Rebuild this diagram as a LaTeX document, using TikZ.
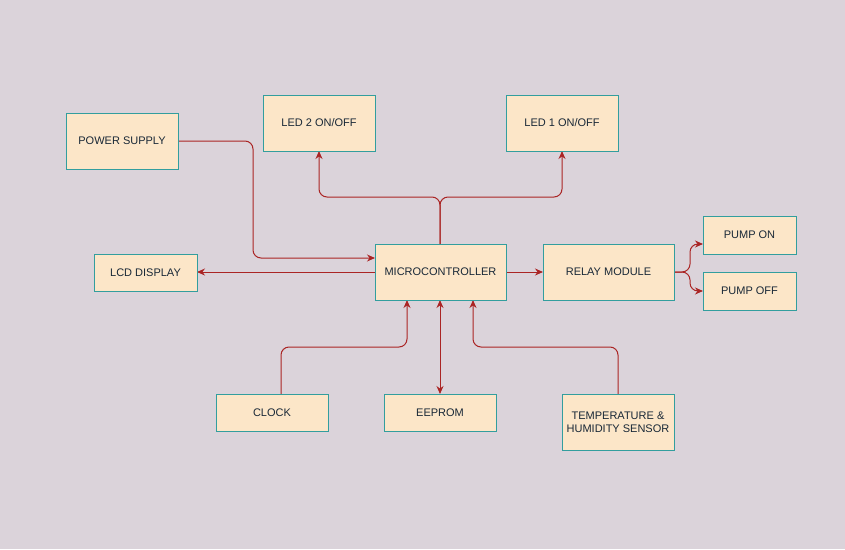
\documentclass[tikz,border=0pt]{standalone}
\usepackage{fontspec}
\setmainfont{Liberation Sans}
\usetikzlibrary{arrows.meta}
\definecolor{bgc}{RGB}{219,211,218}
\definecolor{boxfill}{RGB}{252,230,200}
\definecolor{boxline}{RGB}{50,158,158}
\definecolor{arrc}{RGB}{170,36,36}
\definecolor{txt}{RGB}{25,40,55}
\begin{document}
\begin{tikzpicture}[x=1pt,y=-1pt,
  blk/.style={draw=boxline, fill=boxfill, line width=1pt, text=txt, align=center, inner sep=0pt, font=\fontsize{11}{13.5}\selectfont},
  arr/.style={draw=arrc, line width=1pt, rounded corners=8pt, -{Stealth[length=8pt,width=7pt]}},
  darr/.style={draw=arrc, line width=1pt, {Stealth[length=8pt,width=7pt]}-{Stealth[length=8pt,width=7pt]}}]
\fill[bgc] (0,0) rectangle (845,549);
\useasboundingbox (0,0) rectangle (845,549);
% coordinates of box edges
\coordinate (psE) at (178,141);
\coordinate (mcuN) at (440,244);
\coordinate (mcuS) at (440,300);
\coordinate (mcuW) at (375,272);
\coordinate (mcuWa) at (375,258);
\coordinate (mcuE) at (506,272);
\coordinate (mcuSL) at (407,300);
\coordinate (mcuSR) at (473,300);
\coordinate (led2S) at (319,151);
\coordinate (led1S) at (562,151);
\coordinate (lcdE) at (197,272);
\coordinate (relW) at (543,272);
\coordinate (relE) at (674,272);
\coordinate (ponW) at (703,244);
\coordinate (poffW) at (703,291);
\coordinate (clkN) at (281,394);
\coordinate (eepN) at (440,394);
\coordinate (thN) at (618,394);
% connectors
\draw[arr] (psE) -| (253,258) -- (mcuWa);
\draw[arr] (mcuN) -- (440,197) -| (led2S);
\draw[arr] (mcuN) -- (440,197) -| (led1S);
\draw[arr] (mcuW) -- (lcdE);
\draw[arr] (mcuE) -- (relW);
\draw[arr] (relE) -| (690,244) -- (ponW);
\draw[arr] (relE) -| (690,291) -- (poffW);
\draw[arr] (clkN) |- (407,347) -- (mcuSL);
\draw[darr] (mcuS) -- (eepN);
\draw[arr] (thN) |- (473,347) -- (mcuSR);
% boxes
\node[blk, minimum width=112pt, minimum height=56pt] (ps) at (122,141) {POWER SUPPLY};
\node[blk, minimum width=112pt, minimum height=56pt] (led2) at (319,123) {LED 2 ON/OFF};
\node[blk, minimum width=112pt, minimum height=56pt] (led1) at (562,123) {LED 1 ON/OFF};
\node[blk, minimum width=103pt, minimum height=37pt] (lcd) at (145.5,272.5) {LCD DISPLAY};
\node[blk, minimum width=131pt, minimum height=56pt] (mcu) at (440.5,272) {MICROCONTROLLER};
\node[blk, minimum width=131pt, minimum height=56pt] (relay) at (608.5,272) {RELAY MODULE};
\node[blk, minimum width=93pt, minimum height=38pt] (pon) at (749.5,235) {PUMP ON};
\node[blk, minimum width=93pt, minimum height=38pt] (poff) at (749.5,291) {PUMP OFF};
\node[blk, minimum width=112pt, minimum height=37pt] (clk) at (272,412.5) {CLOCK};
\node[blk, minimum width=112pt, minimum height=37pt] (eep) at (440,412.5) {EEPROM};
\node[blk, minimum width=112pt, minimum height=56pt] (th) at (618,422) {TEMPERATURE \&\\HUMIDITY SENSOR};
\end{tikzpicture}
\end{document}
